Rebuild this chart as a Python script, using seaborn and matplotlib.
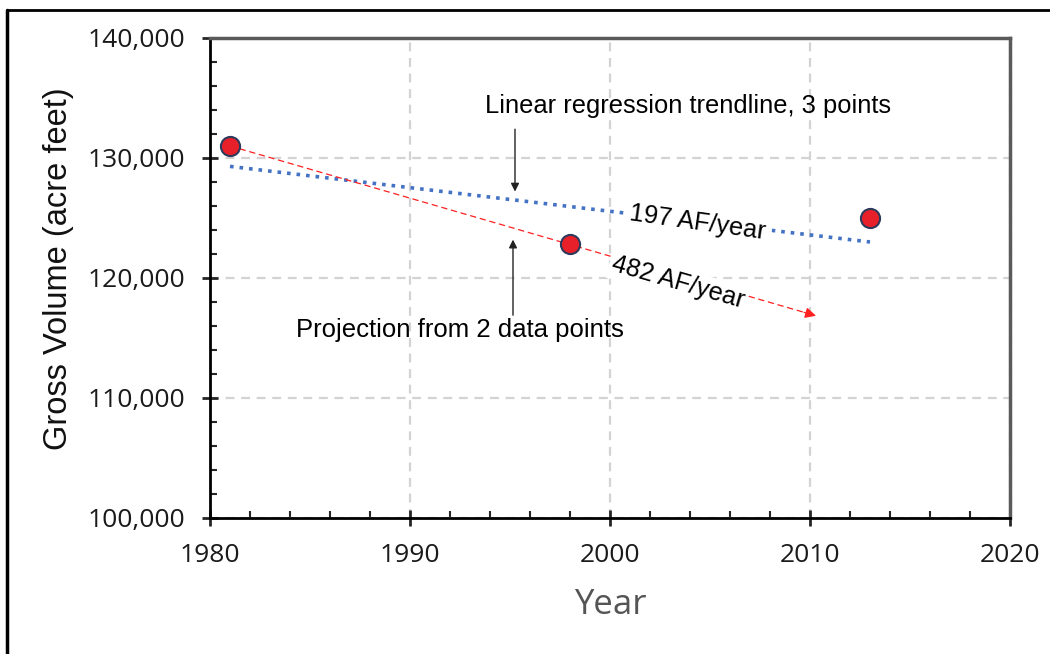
import numpy as np
import pandas as pd
import seaborn as sns
import matplotlib.pyplot as plt
from matplotlib.lines import Line2D
from matplotlib.ticker import MultipleLocator, FuncFormatter

# measured volumes
years = [1981, 1998, 2013]
volume = [131000, 122800, 125000]

# trendline through all 3 points
trend_years = [1981, 2013]
trend_volume = [129300, 123000]

# projection from the first 2 points
proj_years = [1981, 2010.3]
proj_volume = [131000, 116850]

sns.set_style("white")
plt.rcParams['font.family'] = ['Liberation Sans', 'DejaVu Sans']

df = pd.DataFrame({'year': years, 'volume': volume})
trend = pd.DataFrame({'year': trend_years, 'volume': trend_volume})
proj = pd.DataFrame({'year': proj_years, 'volume': proj_volume})

fig = plt.figure(figsize=(10.5, 6.54), dpi=100)
ax = fig.add_axes([0.2, 0.208, 0.7619, 0.7339])

sns.lineplot(data=trend, x='year', y='volume', ax=ax, color='#4472C4',
             linestyle=':', linewidth=2.6, zorder=2)
sns.lineplot(data=proj, x='year', y='volume', ax=ax, color='#FF2020',
             linewidth=0.9, dashes=False, zorder=2)
ax.lines[-1].set_dashes((5, 3))
ax.annotate('', xy=(proj_years[1], proj_volume[1]),
            xytext=(proj_years[1] - 0.6, proj_volume[1] + 0.6 * 482),
            arrowprops=dict(arrowstyle='-|>', color='#FF2020', lw=0.9,
                            mutation_scale=16, shrinkA=0, shrinkB=0))

sns.scatterplot(data=df, x='year', y='volume', ax=ax, s=190, color='#E8202A',
                edgecolor='#2E3A5C', linewidth=1.5, zorder=5)

ax.set_xlim(1980, 2020)
ax.set_ylim(100000, 140000)
ax.xaxis.set_major_locator(MultipleLocator(10))
ax.xaxis.set_minor_locator(MultipleLocator(2))
ax.yaxis.set_major_locator(MultipleLocator(10000))
ax.yaxis.set_minor_locator(MultipleLocator(2000))
ax.yaxis.set_major_formatter(FuncFormatter(lambda v, p: f'{int(v):,}'))

ax.grid(True, which='major', color='#D3D3D3', linestyle=(0, (4, 3)), linewidth=1.6)
ax.set_axisbelow(True)

for s in ['left', 'bottom']:
    ax.spines[s].set_color('black')
    ax.spines[s].set_linewidth(2)
for s in ['top', 'right']:
    ax.spines[s].set_color('#5A5A5A')
    ax.spines[s].set_linewidth(2.5)

ax.tick_params(which='major', direction='inout', length=12, width=2, pad=12,
               labelsize=19, labelcolor='#1a1a1a', top=False, right=False)
ax.tick_params(which='minor', direction='in', length=5, width=1.5,
               top=False, right=False)
ax.tick_params(axis='x', which='both', bottom=True)
ax.tick_params(axis='y', which='both', left=True)
for lab in ax.get_xticklabels() + ax.get_yticklabels():
    lab.set_fontfamily('Open Sans')

ax.set_xlabel('Year', fontsize=25, color='#555555', fontfamily='Open Sans', va='center')
ax.xaxis.set_label_coords(0.5, -0.181)
ax.set_ylabel('Gross Volume (acre feet)', fontsize=23.5, color='#111111', va='center')
ax.yaxis.set_label_coords(-0.19, 0.52)

ax.text(1993.75, 134300, 'Linear regression trendline, 3 points', fontsize=18.4,
        ha='left', va='center', color='black')
ax.text(1992.5, 115700, 'Projection from 2 data points', fontsize=18.5,
        ha='center', va='center', color='black')
ax.text(2004.4, 124650, '197 AF/year', fontsize=18.3, rotation=-8, color='black',
        ha='center', va='center', rotation_mode='anchor',
        bbox=dict(facecolor='white', edgecolor='none', pad=4))
ax.text(2003.4, 119600, '482 AF/year', fontsize=18.3, rotation=-16, color='black',
        ha='center', va='center', rotation_mode='anchor',
        bbox=dict(facecolor='white', edgecolor='none', pad=2))

ax.annotate('', xy=(1995.25, 127200), xytext=(1995.25, 132400),
            arrowprops=dict(arrowstyle='-|>', color='#222222', lw=1,
                            mutation_scale=12, shrinkA=0, shrinkB=0))
ax.annotate('', xy=(1995.15, 123200), xytext=(1995.15, 116900),
            arrowprops=dict(arrowstyle='-|>', color='#222222', lw=1,
                            mutation_scale=12, shrinkA=0, shrinkB=0))

# outer frame: only top and left edges show
fig.add_artist(Line2D([7 / 1050, 1.0], [1 - 10 / 654, 1 - 10 / 654],
                      transform=fig.transFigure, color='black', lw=2))
fig.add_artist(Line2D([7 / 1050, 7 / 1050], [0, 1 - 10 / 654],
                      transform=fig.transFigure, color='black', lw=2.5))

fig.savefig('out.png', dpi=100)
